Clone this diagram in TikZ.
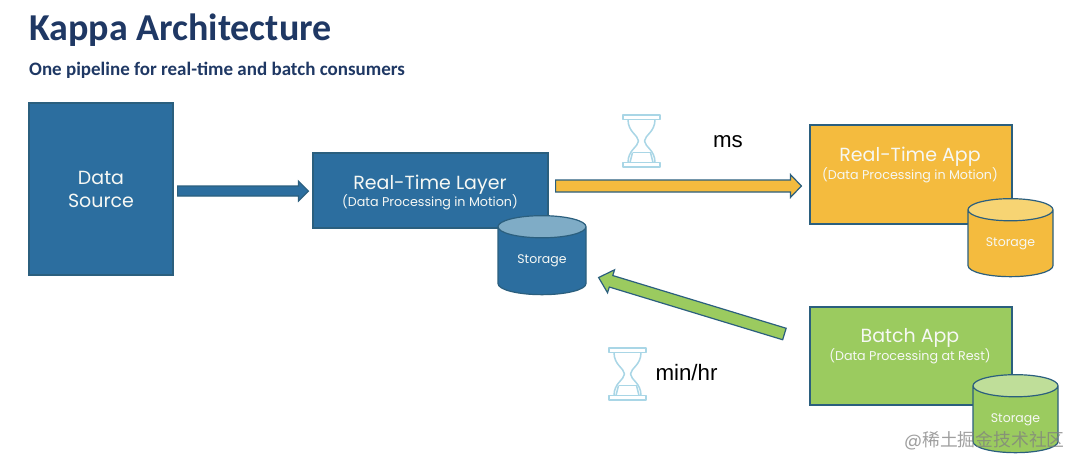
\documentclass[tikz,border=0pt]{standalone}
\usepackage{fontspec}
\setmainfont{Poppins}
\newfontfamily\titlefont{Carlito}
\newfontfamily\plainfont{Liberation Sans}
\newfontfamily\cjkfont{Noto Sans CJK SC}
\usetikzlibrary{calc,shapes.geometric}
\definecolor{navy}{HTML}{1F3864}
\definecolor{blueA}{HTML}{2C6E9F}
\definecolor{blueTop}{HTML}{7FACC6}
\definecolor{yellowA}{HTML}{F4BB3E}
\definecolor{yellowTop}{HTML}{F7D473}
\definecolor{greenA}{HTML}{9BCB5F}
\definecolor{greenTop}{HTML}{BFDE99}
\definecolor{edgeC}{HTML}{2B5F7E}
\definecolor{glass}{HTML}{A9D6E6}
\definecolor{softwhite}{HTML}{F6F8F4}
\tikzset{
  x=1pt,y=-1pt,
  panel/.style={rectangle,draw=edgeC,line width=1.2pt,inner sep=0pt,text=softwhite,align=center},
  store/.style={cylinder,shape border rotate=90,draw=edgeC,line width=1.2pt,inner sep=0pt,
     aspect=0.45,cylinder uses custom fill,minimum width=#1,text=softwhite,font=\fontsize{12.5}{14}\selectfont},
  store/.default=85pt,
  bigtext/.style={font=\fontsize{19}{23}\selectfont,text=softwhite},
  subtext/.style={font=\fontsize{12.7}{14}\selectfont,text=softwhite},
  free/.style={font=\plainfont\fontsize{22.3}{24}\selectfont,text=black},
  glassline/.style={draw=glass,line width=1.5pt,line join=round},
  arrowedge/.style={draw=edgeC,line width=1.2pt,line join=miter}
}
% #1 from, #2 to, #3 shaft half width, #4 head half width, #5 head length, #6 colour
\newcommand{\blockarrow}[6]{%
  \coordinate (neck) at ($(#2)!#5!(#1)$);
  \draw[arrowedge,fill=#6]
    ($(#1)!#3!90:(#2)$) -- ($(neck)!#3!90:(#2)$) -- ($(neck)!#4!90:(#2)$) -- (#2)
    -- ($(neck)!#4!-90:(#2)$) -- ($(neck)!#3!-90:(#2)$) -- ($(#1)!#3!-90:(#2)$) -- cycle;
}
% hourglass: #1 left x, #2 top y (37 wide, 52 tall)
\newcommand{\hourglass}[2]{%
  \begin{scope}[shift={(#1,#2)}]
    \draw[glassline] (0,0) rectangle (37,4.5);
    \draw[glassline] (0,47.5) rectangle (37,52);
    \draw[glassline] (5,4.5) .. controls (5,17) and (15,20) .. (15.5,26)
       .. controls (15,32) and (5,35) .. (5,47.5);
    \draw[glassline] (32,4.5) .. controls (32,17) and (22,20) .. (21.5,26)
       .. controls (22,32) and (32,35) .. (32,47.5);
    \draw[glassline] (9.5,37.5) -- (27.5,37.5);
    \draw[glassline] (7,47.5) -- (9.5,37.5);
    \draw[glassline] (30,47.5) -- (27.5,37.5);
  \end{scope}
}
\begin{document}
\begin{tikzpicture}
\useasboundingbox[fill=white] (0,0) rectangle (1080,466);

\node[anchor=west,font=\titlefont\bfseries\fontsize{38}{40}\selectfont,text=navy,inner sep=0pt] (title) at (29,30) {Kappa Architecture};
\node[anchor=west,font=\titlefont\bfseries\fontsize{19}{24}\selectfont,text=navy,inner sep=0pt] (subtitle) at (29,70) {One pipeline for real-time and batch consumers};

\node[panel,fill=blueA,minimum width=144pt,minimum height=172pt,bigtext] (src) at (101,189) {Data\\Source};

\node[panel,fill=blueA,minimum width=235pt,minimum height=75pt] (rtl) at (430.5,190.5) {};
\node[bigtext] (rtlt) at (430,185) {Real-Time Layer};
\node[subtext] (rtls) at (430,202) {(Data Processing in Motion)};
\node[store=88pt,minimum height=79pt,cylinder body fill=blueA,cylinder end fill=blueTop] (st1) at (542,261) {Storage};

\node[panel,fill=yellowA,minimum width=202pt,minimum height=99pt] (rta) at (911,174.5) {};
\node[bigtext] (rtat) at (910,157) {Real-Time App};
\node[subtext] (rtas) at (910,175) {(Data Processing in Motion)};
\node[store=85pt,minimum height=78pt,cylinder body fill=yellowA,cylinder end fill=yellowTop] (st2) at (1010.5,243.5) {Storage};

\node[panel,fill=greenA,minimum width=202pt,minimum height=98pt] (bat) at (911,356) {};
\node[bigtext] (batt) at (910,338) {Batch App};
\node[subtext] (bats) at (910,356) {(Data Processing at Rest)};
\node[store=85pt,minimum height=78pt,cylinder body fill=greenA,cylinder end fill=greenTop] (st3) at (1015.5,419.5) {Storage};

\coordinate (a1s) at ($(src.east)+(4,2)$);
\coordinate (a1e) at ($(rtl.west)+(-4,0.5)$);
\blockarrow{a1s}{a1e}{5pt}{10pt}{10pt}{blueA}
\coordinate (a2s) at ($(rtl.east)+(7,-4.5)$);
\coordinate (a2e) at ($(rta.west)+(-8,11.5)$);
\blockarrow{a2s}{a2e}{6pt}{11.5pt}{11pt}{yellowA}
\coordinate (a3s) at ($(bat.west)+(-25,-22)$);
\coordinate (a3e) at ($(st1.east)+(12,16.5)$);
\blockarrow{a3s}{a3e}{6pt}{12pt}{13pt}{greenA}

\hourglass{623}{115}
\hourglass{609}{348}
\node[free] (ms) at (728,141.5) {ms};
\node[free] (minhr) at (686.5,373) {min/hr};

\node[anchor=west,inner sep=0pt,text=gray,opacity=0.75,font=\fontsize{17.8}{20}\selectfont] (mark) at (904,441) {@{\cjkfont 稀土掘金技术社区}};
\end{tikzpicture}
\end{document}
